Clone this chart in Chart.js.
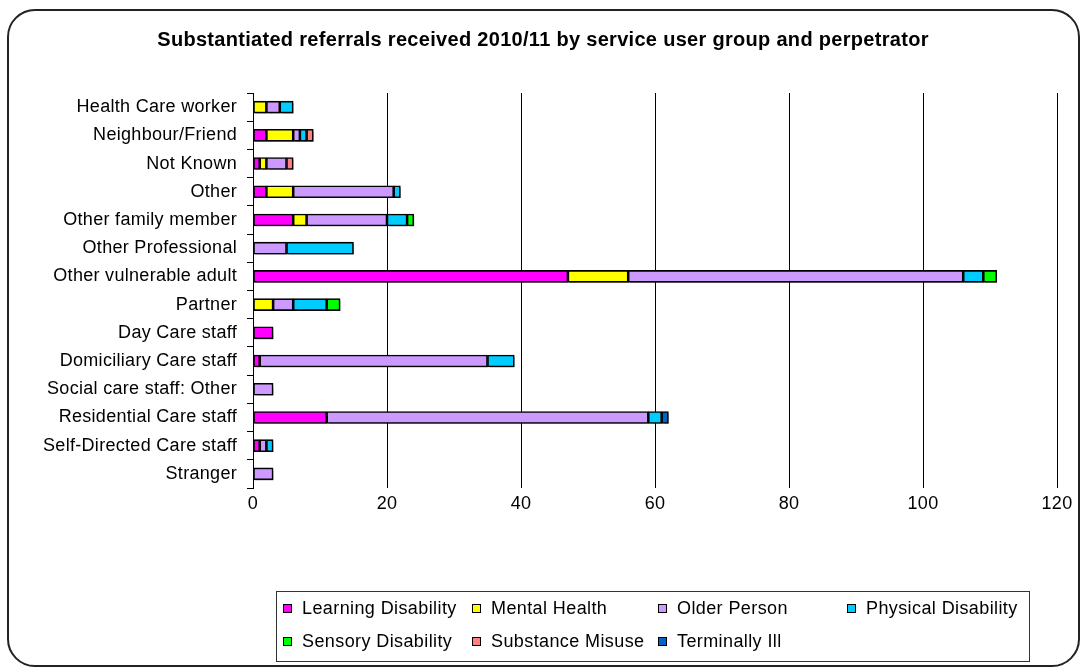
<!DOCTYPE html>
<html>
<head>
<meta charset="utf-8">
<script src="https://cdn.jsdelivr.net/npm/chart.js@4"></script>
<style>
  body { margin: 0; background: #fff; }
  #wrap { position: relative; width: 1085px; height: 668px; }
</style>
</head>
<body>
<div id="wrap"><canvas id="chart"></canvas></div>
<script>
// perpetrator categories (top to bottom)
const perpetrators = ['Health Care worker', 'Neighbour/Friend', 'Not Known', 'Other', 'Other family member',
  'Other Professional', 'Other vulnerable adult', 'Partner', 'Day Care staff', 'Domiciliary Care staff',
  'Social care staff: Other', 'Residential Care staff', 'Self-Directed Care staff', 'Stranger'];

// service user groups
const learningDisability = [0, 2, 1, 2, 6, 0, 47, 0, 3, 1, 0, 11, 1, 0];
const mentalHealth       = [2, 4, 1, 4, 2, 0, 9, 3, 0, 0, 0, 0, 0, 0];
const olderPerson        = [2, 1, 3, 15, 12, 5, 50, 3, 0, 34, 3, 48, 1, 3];
const physicalDisability = [2, 1, 0, 1, 3, 10, 3, 5, 0, 4, 0, 2, 1, 0];
const sensoryDisability  = [0, 0, 0, 0, 1, 0, 2, 2, 0, 0, 0, 0, 0, 0];
const substanceMisuse    = [0, 1, 1, 0, 0, 0, 0, 0, 0, 0, 0, 0, 0, 0];
const terminallyIll      = [0, 0, 0, 0, 0, 0, 0, 0, 0, 0, 0, 1, 0, 0];

const xTicks = [0, 20, 40, 60, 80, 100, 120];

const chartTitle = 'Substantiated referrals received 2010/11 by service user group and perpetrator';

const FONT = '"Liberation Sans", Arial, sans-serif';

const series = [
  ['Learning Disability', learningDisability, '#FF00FF'],
  ['Mental Health', mentalHealth, '#FFFF00'],
  ['Older Person', olderPerson, '#CC99FF'],
  ['Physical Disability', physicalDisability, '#00CCFF'],
  ['Sensory Disability', sensoryDisability, '#00FF00'],
  ['Substance Misuse', substanceMisuse, '#FF8080'],
  ['Terminally Ill', terminallyIll, '#0066CC']
];

// white page, rounded outer border and the title (centred on the whole frame)
const frame = {
  id: 'frame',
  beforeDraw(chart) {
    const ctx = chart.ctx;
    ctx.save();
    ctx.fillStyle = '#fff';
    ctx.fillRect(0, 0, chart.width, chart.height);
    ctx.restore();
    // excel-ish text is a little wider
    ctx.letterSpacing = '0.3px';
  },
  afterDraw(chart) {
    const ctx = chart.ctx;
    ctx.letterSpacing = '0px';
    ctx.save();
    ctx.strokeStyle = '#222';
    ctx.lineWidth = 2;
    ctx.beginPath();
    ctx.roundRect(8, 10, 1071, 656, 27);
    ctx.stroke();
    ctx.font = 'bold 20px ' + FONT;
    ctx.letterSpacing = '0.3px';
    ctx.fillStyle = '#000';
    ctx.textAlign = 'center';
    ctx.textBaseline = 'middle';
    ctx.fillText(chartTitle, 543, 40);
    ctx.restore();
  }
};

// legend laid out as a 4 column grid inside a box
const gridLegend = {
  id: 'gridLegend',
  afterDraw(chart) {
    const ctx = chart.ctx;
    const cols = [283, 472, 658, 847];
    const rows = [608, 641];
    ctx.save();
    ctx.strokeStyle = '#333';
    ctx.lineWidth = 1;
    ctx.strokeRect(276.5, 591.5, 753, 70);
    ctx.font = '18px ' + FONT;
    ctx.letterSpacing = '0.4px';
    ctx.textBaseline = 'middle';
    chart.data.datasets.forEach((ds, i) => {
      const x = cols[i % 4], y = rows[Math.floor(i / 4)];
      ctx.fillStyle = ds.backgroundColor;
      ctx.fillRect(x, y - 4, 9, 9);
      ctx.strokeStyle = '#000';
      ctx.strokeRect(x + 0.5, y - 3.5, 8, 8);
      ctx.fillStyle = '#000';
      ctx.fillText(ds.label, x + 19, y + 1);
    });
    ctx.restore();
  }
};

const barShadow = {
  id: 'barShadow',
  beforeDatasetsDraw(chart) {
    const ctx = chart.ctx;
    ctx.save();
    ctx.shadowColor = 'rgba(0,0,0,0.3)';
    ctx.shadowOffsetX = 2;
    ctx.shadowOffsetY = 2;
    ctx.shadowBlur = 1;
  },
  afterDatasetsDraw(chart) {
    chart.ctx.restore();
  }
};

new Chart(document.getElementById('chart'), {
  type: 'bar',
  data: {
    labels: perpetrators,
    datasets: series.map(([label, values, color]) => ({
      label: label,
      data: values.map(v => v || null),
      backgroundColor: color,
      borderColor: '#000',
      borderWidth: 1.6,
      borderSkipped: false,
      barThickness: 12
    }))
  },
  options: {
    indexAxis: 'y',
    responsive: true,
    maintainAspectRatio: false,
    animation: false,
    layout: { padding: { left: 0, right: 28, top: 93, bottom: 155 } },
    plugins: {
      legend: { display: false },
      tooltip: { enabled: false },
      title: { display: false }
    },
    scales: {
      x: {
        stacked: true,
        min: 0,
        max: 120,
        afterBuildTicks: s => { s.ticks = xTicks.map(v => ({ value: v })); },
        ticks: { color: '#000', font: { family: FONT, size: 18 }, padding: 5 },
        grid: { color: '#000', drawTicks: false },
        border: { display: false },
        afterFit: s => { s.height = 25; }
      },
      y: {
        stacked: true,
        grid: { drawOnChartArea: false, drawTicks: true, tickLength: 6, color: '#000', offset: true },
        border: { display: true, color: '#000', width: 1 },
        ticks: { color: '#000', font: { family: FONT, size: 18 }, padding: 10, autoSkip: false },
        afterFit: s => { s.width = 253; }
      }
    }
  },
  plugins: [frame, gridLegend, barShadow]
});
</script>
</body>
</html>
